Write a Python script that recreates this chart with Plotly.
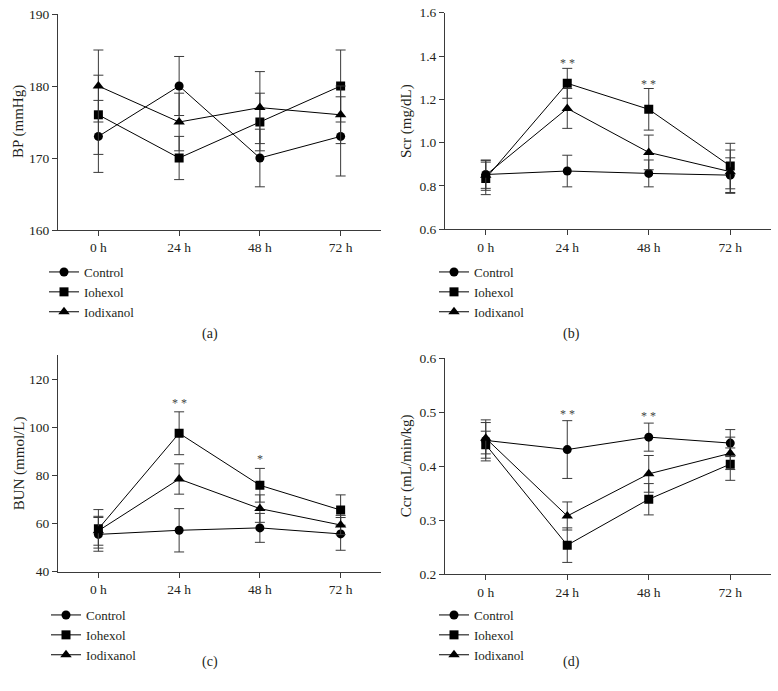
import plotly.graph_objects as go

# ---------------- data ----------------
time_labels = ["0 h", "24 h", "48 h", "72 h"]
time_index = [0, 1, 2, 3]
group_names = ["Control", "Iohexol", "Iodixanol"]

bp_control = [173, 180, 170, 173]
bp_control_sd = [5, 4.1, 4, 5.5]
bp_iohexol = [176, 170, 175, 180]
bp_iohexol_sd = [5.5, 3, 4, 5]
bp_iodixanol = [180, 175, 177, 176]
bp_iodixanol_sd = [5, 4, 5, 4]

scr_control = [0.853, 0.869, 0.858, 0.850]
scr_control_sd = [0.064, 0.073, 0.062, 0.08]
scr_iohexol = [0.835, 1.274, 1.154, 0.892]
scr_iohexol_sd = [0.075, 0.069, 0.096, 0.105]
scr_iodixanol = [0.850, 1.158, 0.955, 0.866]
scr_iodixanol_sd = [0.07, 0.092, 0.08, 0.1]

bun_control = [55.5, 57.2, 58.2, 55.7]
bun_control_sd = [7, 9, 6, 6.8]
bun_iohexol = [57.8, 97.5, 75.9, 65.6]
bun_iohexol_sd = [8.0, 8.9, 7, 6.3]
bun_iodixanol = [57, 78.5, 66.2, 59.4]
bun_iodixanol_sd = [6, 6.3, 5.7, 4]

ccr_control = [0.448, 0.431, 0.454, 0.443]
ccr_control_sd = [0.038, 0.0535, 0.026, 0.025]
ccr_iohexol = [0.440, 0.254, 0.339, 0.404]
ccr_iohexol_sd = [0.025, 0.032, 0.029, 0.03]
ccr_iodixanol = [0.452, 0.308, 0.386, 0.424]
ccr_iodixanol_sd = [0.029, 0.026, 0.034, 0.03]

scr_sig = ["", "**", "**", ""]
bun_sig = ["", "**", "*", ""]
ccr_sig = ["", "**", "**", ""]

# ---------------- styling ----------------
W, H = 778, 691
FONT = "Liberation Serif"
TXT = "#231f20"
AX = "#3a3a3a"
symbols = ["circle", "square", "triangle-up"]
msizes = [9, 9, 10]

panels = [
    dict(key="a", ytitle="BP (mmHg)",
         series=[(bp_control, bp_control_sd), (bp_iohexol, bp_iohexol_sd), (bp_iodixanol, bp_iodixanol_sd)],
         sig=None, yrange=[160, 190], ticks=[160, 170, 180, 190], fmt="d",
         xdom=[58, 381], ydom=[14, 230], star_shift=0),
    dict(key="b", ytitle="Scr (mg/dL)",
         series=[(scr_control, scr_control_sd), (scr_iohexol, scr_iohexol_sd), (scr_iodixanol, scr_iodixanol_sd)],
         sig=scr_sig, yrange=[0.6, 1.6], ticks=[0.6, 0.8, 1.0, 1.2, 1.4, 1.6], fmt=".1f",
         xdom=[445, 771], ydom=[12.7, 229.3], star_shift=-4),
    dict(key="c", ytitle="BUN (mmol/L)",
         series=[(bun_control, bun_control_sd), (bun_iohexol, bun_iohexol_sd), (bun_iodixanol, bun_iodixanol_sd)],
         sig=bun_sig, yrange=[40, 130], ticks=[40, 60, 80, 100, 120], fmt="d",
         xdom=[58, 381], ydom=[355, 571.7], star_shift=0),
    dict(key="d", ytitle="Ccr (mL/min/kg)",
         series=[(ccr_control, ccr_control_sd), (ccr_iohexol, ccr_iohexol_sd), (ccr_iodixanol, ccr_iodixanol_sd)],
         sig=ccr_sig, yrange=[0.2, 0.6], ticks=[0.2, 0.3, 0.4, 0.5, 0.6], fmt=".1f",
         xdom=[445, 771], ydom=[358.3, 574.3], star_shift=-2),
]
legend_pos = {"a": (44, 257), "b": (434, 257), "c": (46, 600), "d": (434, 600)}
caption_pos = {"a": (200, 334), "b": (582, 334), "c": (200, 672), "d": (582, 672)}
title_x = {"a": 19, "b": 406, "c": 19, "d": 406}

fig = go.Figure()
layout = dict(width=W, height=H, autosize=False, margin=dict(l=0, r=0, t=0, b=0, pad=0),
              paper_bgcolor="white", plot_bgcolor="white",
              font=dict(family=FONT, color=TXT, size=13.5), annotations=[])

for i, p in enumerate(panels):
    n = "" if i == 0 else str(i + 1)
    xa, ya = "x" + n, "y" + n
    leg = "legend" + n
    for g, (vals, sds) in enumerate(p["series"]):
        fig.add_trace(go.Scatter(
            x=time_index, y=vals, name=group_names[g], mode="lines+markers",
            xaxis=xa, yaxis=ya, legend=leg, showlegend=True,
            line=dict(color="black", width=1),
            marker=dict(symbol=symbols[g], size=msizes[g], color="black"),
            error_y=dict(type="data", array=sds, visible=True, color=AX, thickness=1, width=5),
        ))
    x0, x1 = p["xdom"]
    yt, yb = p["ydom"]
    common_axis = dict(showline=True, linecolor=AX, linewidth=1, ticks="outside", ticklen=5,
                       tickcolor=AX, tickwidth=1, showgrid=False, zeroline=False, automargin=False,
                       tickfont=dict(family=FONT, size=13.5, color=TXT))
    layout["xaxis" + n] = dict(common_axis, domain=[x0 / W, x1 / W], range=[-0.5, 3.5],
                               tickvals=time_index, ticktext=time_labels, anchor=ya)
    layout["yaxis" + n] = dict(common_axis, domain=[1 - yb / H, 1 - yt / H], range=p["yrange"],
                               tickvals=p["ticks"], tickformat=p["fmt"], anchor=xa)
    # y-axis title placed as rotated text beside the axis
    layout["annotations"].append(dict(text=p["ytitle"], textangle=-90,
                                      x=title_x[p["key"]] / W, y=1 - (yt + yb) / 2 / H,
                                      xref="paper", yref="paper", showarrow=False,
                                      xanchor="center", yanchor="middle",
                                      font=dict(family=FONT, size=15, color=TXT)))
    lx, ly = legend_pos[p["key"]]
    layout[leg] = dict(x=lx / W, y=1 - ly / H, xanchor="left", yanchor="top",
                       bgcolor="rgba(0,0,0,0)", font=dict(family=FONT, size=13, color=TXT),
                       itemwidth=30, tracegroupgap=0, traceorder="normal")
    cx, cy = caption_pos[p["key"]]
    layout["annotations"].append(dict(text="(" + p["key"] + ")", x=cx / W, y=1 - cy / H,
                                      xref="paper", yref="paper", showarrow=False,
                                      font=dict(family=FONT, size=14, color=TXT)))
    if p["sig"]:
        for t, s in enumerate(p["sig"]):
            if not s:
                continue
            top = max(v[t] + e[t] for v, e in p["series"])
            layout["annotations"].append(dict(
                text=" ".join(s), x=time_index[t], y=top, xref=xa, yref=ya,
                yanchor="bottom", yshift=p["star_shift"], showarrow=False,
                font=dict(family=FONT, size=12, color="#444444")))

fig.update_layout(**layout)
fig.write_html("out.html", config={"displayModeBar": False},
               post_script="document.body.style.margin='0';document.body.style.overflow='hidden';")
